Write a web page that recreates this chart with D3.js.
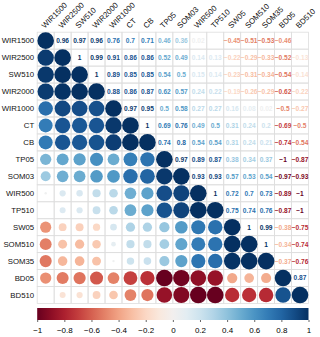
<!DOCTYPE html>
<html>
<head>
<meta charset="utf-8">
<script src="https://cdn.jsdelivr.net/npm/d3@7"></script>
<style>
  body { margin: 0; background: #fff; }
  text { font-family: "Liberation Sans", Arial, sans-serif; }
</style>
</head>
<body>
<div id="chart"></div>
<script>
    const vars = ['WIR1500','WIR2500','SW510','WIR2000','WIR1000','CT','CB','TP05',
                  'SOM03','WIR500','TP510','SW05','SOM510','SOM35','BD05','BD510'];

    // upper triangle, row i lists values for columns i+1 .. 15
    const r_WIR1500 = [0.96,0.97,0.96,0.76,0.7,0.71,0.46,0.36,0.02,0,-0.45,-0.51,-0.53,-0.46,0];
    const r_WIR2500 = [1,0.99,0.91,0.86,0.86,0.52,0.49,0.14,0.13,-0.22,-0.29,-0.33,-0.52,-0.13];
    const r_SW510   = [1,0.89,0.85,0.85,0.54,0.5,0.15,0.14,-0.23,-0.31,-0.34,-0.54,-0.14];
    const r_WIR2000 = [0.88,0.86,0.87,0.62,0.57,0.24,0.22,-0.19,-0.26,-0.29,-0.62,-0.22];
    const r_WIR1000 = [0.97,0.95,0.5,0.58,0.27,0.27,0.16,0.08,0.02,-0.5,-0.27];
    const r_CT      = [1,0.69,0.76,0.49,0.5,0.31,0.24,0.2,-0.69,-0.5];
    const r_CB      = [0.74,0.8,0.54,0.54,0.31,0.24,0.21,-0.74,-0.54];
    const r_TP05    = [0.97,0.89,0.87,0.38,0.34,0.37,-1,-0.87];
    const r_SOM03   = [0.93,0.93,0.57,0.53,0.54,-0.97,-0.93];
    const r_WIR500  = [1,0.72,0.7,0.73,-0.89,-1];
    const r_TP510   = [0.75,0.74,0.76,-0.87,-1];
    const r_SW05    = [1,0.99,-0.38,-0.75];
    const r_SOM510  = [1,-0.34,-0.74];
    const r_SOM35   = [-0.37,-0.76];
    const r_BD05    = [0.87];

    const upper = [r_WIR1500,r_WIR2500,r_SW510,r_WIR2000,r_WIR1000,r_CT,r_CB,r_TP05,
                   r_SOM03,r_WIR500,r_TP510,r_SW05,r_SOM510,r_SOM35,r_BD05,[]];
    const barTicks = [-1,-0.8,-0.6,-0.4,-0.2,0,0.2,0.4,0.6,0.8,1];

    // full matrix
    const n = vars.length;
    const M = vars.map((v,i) => vars.map((w,j) => {
        if (i === j) return 1;
        return i < j ? upper[i][j-i-1] : upper[j][i-j-1];
    }));
    const cells = [];
    for (let i = 0; i < n; i++) for (let j = 0; j < n; j++) cells.push({i, j, v: M[i][j]});

    const W = 320, H = 337;
    const mLeft = 37.2, mTop = 32.2, size = 271.3;

    const svg = d3.select('#chart').append('svg')
        .attr('width', W).attr('height', H);

    const x = d3.scaleBand().domain(d3.range(n)).range([mLeft, mLeft + size]);
    const y = d3.scaleBand().domain(d3.range(n)).range([mTop, mTop + size]);
    const col = v => d3.interpolateRdBu((v + 1) / 2);
    const bw = x.bandwidth();

    // grid
    const g = svg.append('g');
    g.selectAll('.cell')
        .data(cells)
        .enter().append('rect')
            .attr('x', d => x(d.j)).attr('y', d => y(d.i))
            .attr('width', bw).attr('height', bw)
            .attr('fill', 'none')
            .attr('stroke', '#dedede')
            .attr('stroke-width', 0.8);

    // lower: circles
    g.selectAll('.circ')
        .data(cells.filter(d => d.i >= d.j))
        .enter().append('circle')
            .attr('cx', d => x(d.j) + bw/2)
            .attr('cy', d => y(d.i) + bw/2)
            .attr('r', d => Math.sqrt(Math.abs(d.v)) * bw * 0.49)
            .attr('fill', d => col(d.v));

    // upper: numbers
    g.selectAll('.num')
        .data(cells.filter(d => d.i < d.j))
        .enter().append('text')
            .attr('x', d => x(d.j) + bw/2)
            .attr('y', d => y(d.i) + bw/2 + 2.4)
            .attr('text-anchor', 'middle')
            .attr('font-size', 6.6)
            .attr('font-weight', 'bold')
            .attr('fill', d => col(d.v))
            .text(d => d.v === 0 ? '' : String(+d.v.toFixed(2)).replace('-', '\u2212'));

    // row labels
    svg.append('g').selectAll('text')
        .data(vars)
        .enter().append('text')
            .attr('x', mLeft - 3)
            .attr('y', (d,i) => y(i) + bw/2 + 2.8)
            .attr('text-anchor', 'end')
            .attr('font-size', 7.8)
            .attr('fill', '#111')
            .text(d => d);

    // column labels
    svg.append('g').selectAll('text')
        .data(vars)
        .enter().append('text')
            .attr('transform', (d,i) => `translate(${x(i) + bw/2 - 1},${mTop - 3.5}) rotate(-45)`)
            .attr('text-anchor', 'start')
            .attr('font-size', 7.8)
            .attr('fill', '#111')
            .text(d => d);

    // colour bar
    const cb = d3.scaleLinear().domain([-1, 1]).range([mLeft, mLeft + size]);
    const defs = svg.append('defs');
    const grad = defs.append('linearGradient').attr('id', 'cbgrad');
    d3.range(0, 1.0001, 0.05).forEach(t => {
        grad.append('stop').attr('offset', t).attr('stop-color', d3.interpolateRdBu(t));
    });
    const barY = 308, barH = 12;
    svg.append('rect')
        .attr('x', cb(-1)).attr('y', barY)
        .attr('width', cb(1) - cb(-1)).attr('height', barH)
        .attr('fill', 'url(#cbgrad)');

    svg.append('g')
        .attr('transform', `translate(0,${barY + barH})`)
        .call(d3.axisBottom(cb)
            .tickValues(barTicks)
            .tickSize(2)
            .tickPadding(5)
            .tickFormat(d => String(+d.toFixed(1)).replace('-', '\u2212')))
        .call(a => a.select('.domain').remove())
        .call(a => a.selectAll('line').attr('stroke', '#666'))
        .call(a => a.selectAll('text')
            .attr('font-size', 8)
            .attr('font-family', '"Liberation Sans", Arial, sans-serif')
            .attr('fill', '#000'));
</script>
</body>
</html>
